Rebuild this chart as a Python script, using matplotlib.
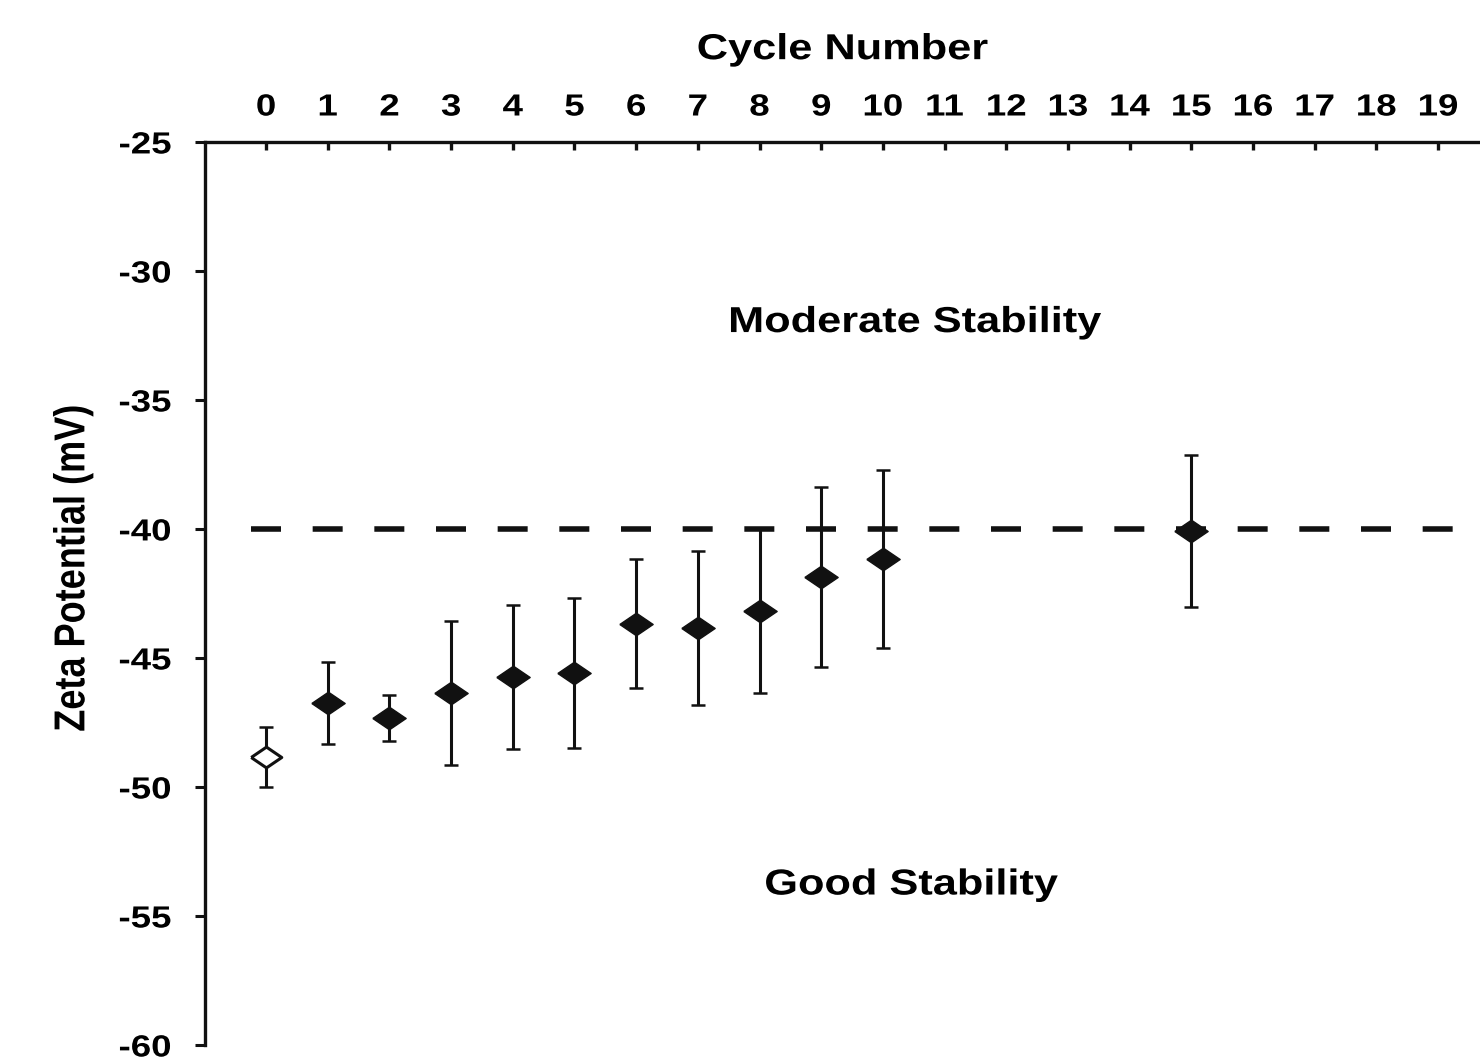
import numpy as np
import matplotlib
matplotlib.use("Agg")
import matplotlib.pyplot as plt
from matplotlib.patheffects import AbstractPathEffect
from matplotlib.transforms import Affine2D

plt.rcParams['font.family'] = ['Liberation Sans', 'DejaVu Sans']
plt.rcParams['font.weight'] = 'bold'
plt.rcParams['axes.unicode_minus'] = False

# values
cycles = [0, 1, 2, 3, 4, 5, 6, 7, 8, 9, 10, 15]
zeta = [-48.84, -46.74, -47.33, -46.36, -45.74, -45.58, -43.68, -43.84, -43.18, -41.86, -41.16, -40.08]
zeta_err = [1.17, 1.6, 0.9, 2.78, 2.8, 2.9, 2.5, 3.0, 3.16, 3.5, 3.45, 2.93]
x_ticks = list(range(0, 20))
y_ticks = [-25, -30, -35, -40, -45, -50, -55, -60]
threshold = -40

INK = '#111111'
WIDEN = 1.2  # the source figure is stretched horizontally


class Widen(AbstractPathEffect):
    """Stretch text horizontally around an anchor (left/center/right)."""

    def __init__(self, sx=WIDEN, anchor='center'):
        super().__init__()
        self.sx = sx
        self.anchor = anchor

    def draw_path(self, renderer, gc, tpath, affine, rgbFace=None):
        ext = affine.transform_path(tpath).get_extents()
        if self.anchor == 'right':
            cx = ext.x1
        elif self.anchor == 'left':
            cx = ext.x0
        else:
            cx = 0.5 * (ext.x0 + ext.x1)
        stretched = affine + Affine2D().translate(-cx, 0).scale(self.sx, 1).translate(cx, 0)
        renderer.draw_path(gc, tpath, stretched, rgbFace)


# wide diamond, like the stretched markers in the source
diamond = [(-1.0, 0.0), (0.0, 0.68), (1.0, 0.0), (0.0, -0.68), (-1.0, 0.0)]

fig = plt.figure(figsize=(14.8, 10.61), dpi=100)
ax = fig.add_axes([0.1385, 0.0151, 0.8615, 0.8511])

# stability threshold
ax.hlines(threshold, -0.25, 19.25, colors=INK, linewidth=4, linestyles=(0, (5.4, 5.7)))

# untreated sample (open marker) and cycled samples (filled)
ax.errorbar(cycles[:1], zeta[:1], yerr=zeta_err[:1], fmt='none',
            ecolor=INK, elinewidth=2.2, capsize=5, capthick=1.8, zorder=2)
ax.plot(cycles[:1], zeta[:1], linestyle='none', marker=diamond, markersize=22,
        markerfacecolor='white', markeredgecolor=INK, markeredgewidth=2.2, zorder=3)
ax.errorbar(cycles[1:], zeta[1:], yerr=zeta_err[1:], fmt='none',
            ecolor=INK, elinewidth=2.2, capsize=5, capthick=1.8, zorder=2)
ax.plot(cycles[1:], zeta[1:], linestyle='none', marker=diamond, markersize=24,
        markerfacecolor=INK, markeredgecolor=INK, markeredgewidth=1, zorder=3)

ax.set_xlim(-0.99, 19.68)
ax.set_ylim(-60, -25)
ax.xaxis.tick_top()
ax.xaxis.set_label_position('top')
ax.set_xticks(x_ticks)
ax.set_yticks(y_ticks)
ax.tick_params(axis='x', direction='in', length=5.5, width=2.4, labelsize=22, pad=14, color=INK)
ax.tick_params(axis='y', direction='out', length=7.2, width=2.2, labelsize=22, pad=17, color=INK)
ax.spines['bottom'].set_visible(False)
ax.spines['right'].set_visible(False)
for side in ('top', 'left'):
    ax.spines[side].set_linewidth(2.4)
    ax.spines[side].set_color(INK)

for tick in ax.xaxis.get_major_ticks():
    tick.label1.set_path_effects([Widen()])
    tick.label2.set_path_effects([Widen()])
for tick in ax.yaxis.get_major_ticks():
    tick.label1.set_path_effects([Widen(anchor='right')])

xl = ax.set_xlabel('Cycle Number', fontsize=26, fontweight='bold', labelpad=24)
xl.set_path_effects([Widen()])
yl = ax.set_ylabel('Zeta Potential (mV)', fontsize=26, fontweight='bold', va='center')
ax.yaxis.set_label_coords(-0.1035, 0.528)
yl.set_path_effects([Widen()])

t1 = ax.text(10.52, -32.0, 'Moderate Stability', fontsize=26, fontweight='bold', ha='center', va='center')
t2 = ax.text(10.46, -53.8, 'Good Stability', fontsize=26, fontweight='bold', ha='center', va='center')
for t in (t1, t2):
    t.set_path_effects([Widen()])

fig.savefig('out.png', dpi=100)
